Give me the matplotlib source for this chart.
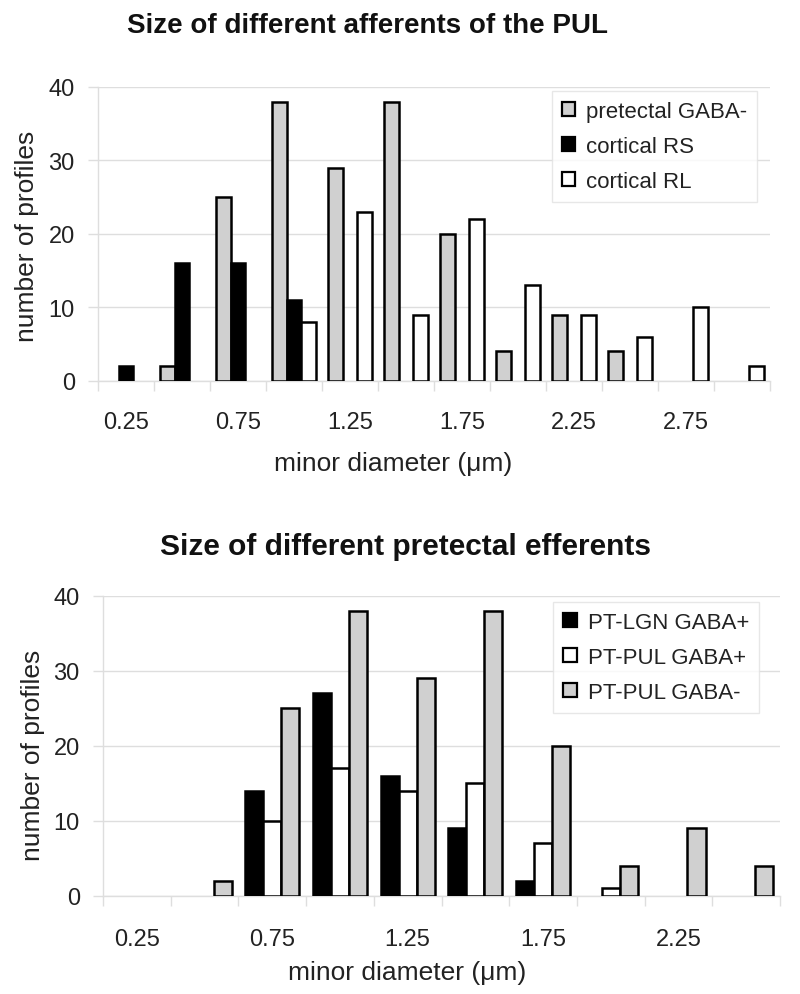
import numpy as np
import matplotlib
matplotlib.use('Agg')
import matplotlib.pyplot as plt
from matplotlib.patches import Patch

# ---------------- data ----------------
top_categories = ['0.25', '0.5', '0.75', '1.0', '1.25', '1.5', '1.75', '2.0', '2.25', '2.5', '2.75', '3.0']
top_tick_labels = ['0.25', '', '0.75', '', '1.25', '', '1.75', '', '2.25', '', '2.75', '']
pretectal_gaba_minus = [0, 2, 25, 38, 29, 38, 20, 4, 9, 4, 0, 0]
cortical_rs = [2, 16, 16, 11, 0, 0, 0, 0, 0, 0, 0, 0]
cortical_rl = [0, 0, 0, 8, 23, 9, 22, 13, 9, 6, 10, 2]
top_series_names = ['pretectal GABA-', 'cortical RS', 'cortical RL']

bottom_categories = ['0.25', '0.5', '0.75', '1.0', '1.25', '1.5', '1.75', '2.0', '2.25', '2.5']
bottom_tick_labels = ['0.25', '', '0.75', '', '1.25', '', '1.75', '', '2.25', '']
pt_lgn_gaba_plus = [0, 0, 14, 27, 16, 9, 2, 0, 0, 0]
pt_pul_gaba_plus = [0, 0, 10, 17, 14, 15, 7, 1, 0, 0]
pt_pul_gaba_minus = [0, 2, 25, 38, 29, 38, 20, 4, 9, 4]
bottom_series_names = ['PT-LGN GABA+', 'PT-PUL GABA+', 'PT-PUL GABA-']

top_title = 'Size of different afferents of the PUL'
bottom_title = 'Size of different pretectal efferents'
xlabel = 'minor diameter (\u03bcm)'
ylabel = 'number of profiles'

# ---------------- style ----------------
GRAY = '#d0d0d0'
BLACK = '#000000'
WHITE = '#ffffff'
GRID = '#dedede'
TXT = '#222222'
FONT = 'Liberation Sans'

W, H = 800, 995
fig = plt.figure(figsize=(W / 100, H / 100), dpi=100)


def px_axes(left, top, right, bottom):
    return fig.add_axes([left / W, 1 - bottom / H, (right - left) / W, (bottom - top) / H])


def style_axes(ax, n, labels, label_pad):
    ax.set_xlim(-0.5, n - 0.5)
    ax.set_ylim(0, 40)
    ax.set_yticks([0, 10, 20, 30, 40])
    ax.set_yticklabels(['0', '10', '20', '30', '40'])
    ax.set_xticks(np.arange(n + 1) - 0.5)
    ax.set_xticklabels([''] * (n + 1))
    ax.set_xticks(np.arange(n), labels, minor=True)
    ax.tick_params(axis='x', which='major', length=7.2, width=1, color=GRID, direction='out')
    ax.tick_params(axis='x', which='minor', length=0, pad=label_pad, labelsize=17, labelcolor=TXT)
    ax.tick_params(axis='y', length=7.2, width=1, color=GRID, direction='out', pad=9.5,
                   labelsize=17, labelcolor=TXT)
    for lab in ax.get_xticklabels(minor=True) + ax.get_yticklabels():
        lab.set_fontfamily(FONT)
    ax.yaxis.grid(True, color=GRID, linewidth=1)
    ax.set_axisbelow(True)
    for s in ['top', 'right']:
        ax.spines[s].set_visible(False)
    for s in ['left', 'bottom']:
        ax.spines[s].set_color(GRID)
        ax.spines[s].set_linewidth(1)


def draw_bars(ax, series, colors, n):
    k = len(series)
    bw = 0.8 / k
    x = np.arange(n)
    for i, (vals, col) in enumerate(zip(series, colors)):
        vals = np.asarray(vals, dtype=float)
        lw = np.where(vals > 0, 1.8, 0.0)
        ax.bar(x + (i - (k - 1) / 2) * bw, vals, width=bw, color=col,
               edgecolor='black', linewidth=lw, zorder=3)


def legend(ax, names, colors, anchor):
    handles = [Patch(facecolor=c, edgecolor='black', linewidth=1.6) for c in colors]
    leg = ax.legend(handles, names, loc='upper right', bbox_to_anchor=anchor,
                    prop={'family': FONT, 'size': 16}, frameon=True, fancybox=False,
                    edgecolor='#e2e2e2', handlelength=0.6, handleheight=0.6,
                    handletextpad=0.5, labelspacing=0.62, borderpad=0.45,
                    borderaxespad=0, labelcolor=TXT)
    leg.get_frame().set_linewidth(1)
    return leg


# ---------------- top chart ----------------
ax1 = px_axes(98, 88, 770, 381.7)
n1 = len(top_categories)
style_axes(ax1, n1, top_tick_labels, 21.5)
draw_bars(ax1, [pretectal_gaba_minus, cortical_rs, cortical_rl], [GRAY, BLACK, WHITE], n1)
legend(ax1, top_series_names, [GRAY, BLACK, WHITE], (0.981, 0.986))

# ---------------- bottom chart ----------------
ax2 = px_axes(103, 596.7, 780, 896.7)
n2 = len(bottom_categories)
style_axes(ax2, n2, bottom_tick_labels, 23.5)
draw_bars(ax2, [pt_lgn_gaba_plus, pt_pul_gaba_plus, pt_pul_gaba_minus], [BLACK, WHITE, GRAY], n2)
legend(ax2, bottom_series_names, [BLACK, WHITE, GRAY], (0.969, 0.979))

# ---------------- texts ----------------
fig.text(367.5 / W, 1 - 33 / H, top_title, ha='center', va='baseline',
         fontsize=20, fontweight='bold', family=FONT, color='#111111')
fig.text(406 / W, 1 - 555 / H, bottom_title, ha='center', va='baseline',
         fontsize=21.5, fontweight='bold', family=FONT, color='#111111')
fig.text(393 / W, 1 - 471 / H, xlabel, ha='center', va='baseline',
         fontsize=19, family=FONT, color=TXT)
fig.text(407 / W, 1 - 980 / H, xlabel, ha='center', va='baseline',
         fontsize=19, family=FONT, color=TXT)
fig.text(27 / W, 1 - 236 / H, ylabel, ha='center', va='center', rotation=90,
         fontsize=19, family=FONT, color=TXT)
fig.text(33 / W, 1 - 755 / H, ylabel, ha='center', va='center', rotation=90,
         fontsize=19, family=FONT, color=TXT)

fig.savefig('out.png', dpi=100, facecolor='white')
